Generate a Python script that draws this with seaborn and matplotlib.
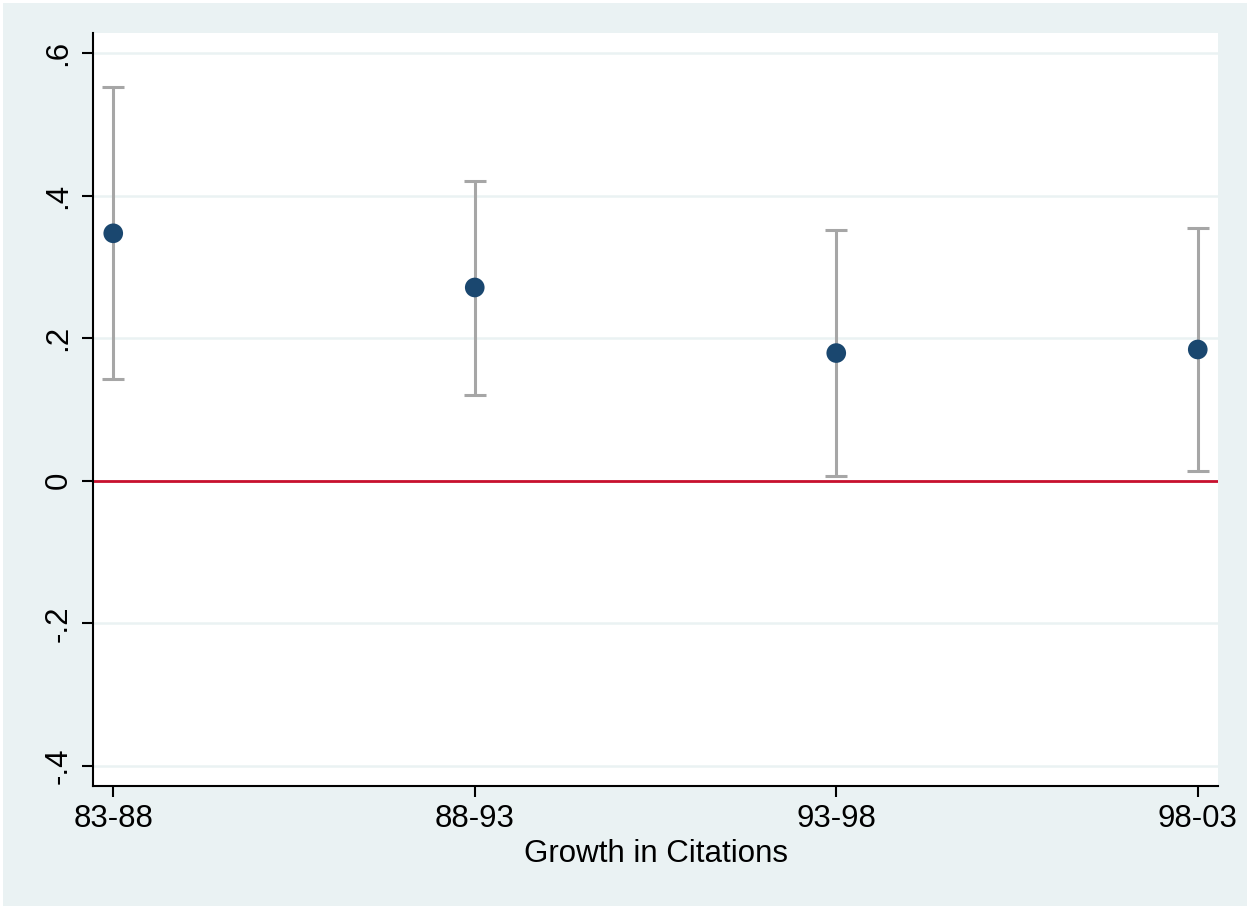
import matplotlib
matplotlib.use("Agg")
import matplotlib.pyplot as plt
import seaborn as sns
import pandas as pd

periods = ["83-88", "88-93", "93-98", "98-03"]
estimates = [0.347, 0.271, 0.179, 0.184]
ci_low = [0.142, 0.120, 0.007, 0.013]
ci_high = [0.552, 0.421, 0.351, 0.355]
yticks = [-0.4, -0.2, 0.0, 0.2, 0.4, 0.6]
ytick_labels = ["-.4", "-.2", "0", ".2", ".4", ".6"]

df = pd.DataFrame({"period": periods, "est": estimates, "lo": ci_low, "hi": ci_high})
df["pos"] = range(len(df))

sns.set_theme(style="white")
plt.rcParams["font.family"] = ["Liberation Sans", "DejaVu Sans"]

bg = "#EAF2F3"
fig = plt.figure(figsize=(12.5, 9.09), dpi=100, facecolor=bg)
fig.patch.set_edgecolor("white")
fig.patch.set_linewidth(3)
ax = fig.add_axes([0.0744, 0.1356, 0.9, 0.8281])
ax.set_facecolor("white")

for y in yticks:
    ax.axhline(y, color=bg, lw=1.8, zorder=0)
ax.axhline(0, color="#C8102E", lw=2, zorder=1)

yerr = [df["est"] - df["lo"], df["hi"] - df["est"]]
ax.errorbar(df["pos"], df["est"], yerr=yerr, fmt="none", ecolor="#A6A6A6",
            elinewidth=2.2, capsize=8, capthick=2.2, zorder=2)
sns.scatterplot(data=df, x="pos", y="est", ax=ax, color="#1A476F", s=200,
                edgecolor="none", zorder=3, legend=False)

ax.set_xlim(-0.056, 3.056)
ax.set_ylim(-0.428, 0.628)
ax.set_xticks(df["pos"])
ax.set_xticklabels(periods)
ax.set_yticks(yticks)
ax.set_yticklabels(ytick_labels, rotation=90, va="center")
ax.tick_params(axis="both", which="major", length=8, width=1.5, color="black",
               labelsize=22.5, labelcolor="black", bottom=True, left=True, direction="out")
ax.tick_params(axis="y", pad=6)
ax.tick_params(axis="x", pad=5)
ax.set_xlabel("Growth in Citations", fontsize=22.5, color="black", labelpad=4)
ax.set_ylabel("")

for side in ["top", "right"]:
    ax.spines[side].set_visible(False)
for side in ["left", "bottom"]:
    ax.spines[side].set_color("black")
    ax.spines[side].set_linewidth(1.5)

fig.savefig("out.png", dpi=100, facecolor=bg, edgecolor="white")
